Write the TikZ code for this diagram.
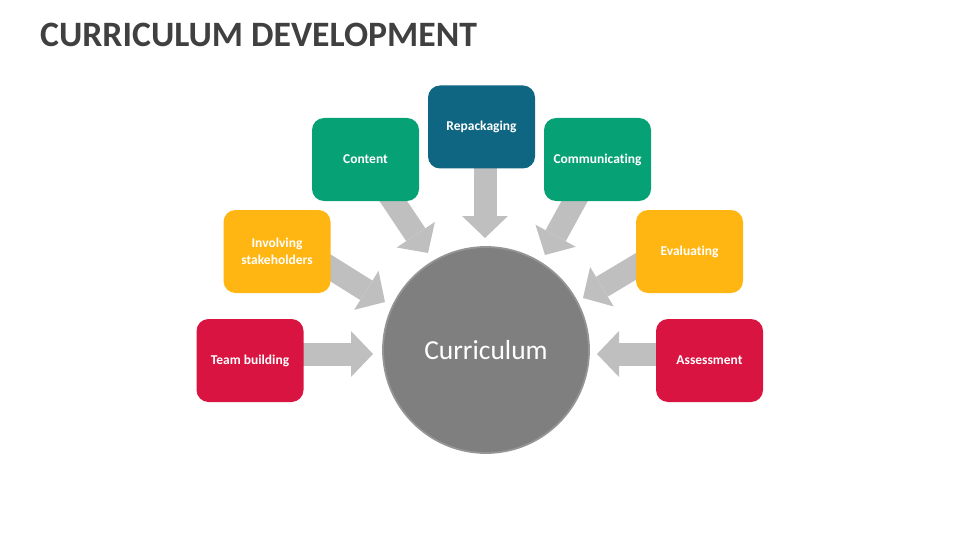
\documentclass[tikz,border=0pt]{standalone}
\usepackage{fontspec}
\setmainfont[Ligatures=NoCommon]{Carlito}
\usepackage{xcolor}
\usepackage{tikz}
\usetikzlibrary{positioning,calc,arrows.meta,backgrounds}
\definecolor{titlegray}{HTML}{404040}
\definecolor{arrowgray}{HTML}{BFBFBF}
\definecolor{hubgray}{HTML}{7F7F7F}
\definecolor{rimgray}{HTML}{959595}
\definecolor{redbox}{HTML}{D91441}
\definecolor{amberbox}{HTML}{FFB612}
\definecolor{greenbox}{HTML}{07A176}
\definecolor{tealbox}{HTML}{0F6682}

\begin{document}
\begin{tikzpicture}[x=1pt,y=-1pt,
    stage/.style={rounded corners=12pt, minimum width=107pt, minimum height=83pt, inner sep=2pt,
      text=white, align=center, font=\fontsize{13.5}{16.5}\selectfont\bfseries},
    hub/.style={circle, fill=hubgray, draw=rimgray, line width=1.8pt, minimum size=206pt, inner sep=0pt,
      text=white, font=\fontsize{27.5}{30}\selectfont},
    flow/.style={draw=arrowgray, line width=23pt, -{Triangle[length=22pt,width=46pt,line width=0pt]}}]
    \useasboundingbox (0,0) rectangle (960,540);

    % Title
    \node[anchor=base west, inner sep=0pt, text=titlegray, font=\fontsize{35.7}{40}\selectfont\bfseries]
      (title) at (40,47) {CURRICULUM DEVELOPMENT};

    % Centre
    \node[hub] (cur) at (486,350) {Curriculum};

    % Stages
    \node[stage, fill=redbox] (tb) at (250,360.5) {Team building};
    \node[stage, fill=amberbox] (is) at (277,251.5) {Involving\\stakeholders};
    \node[stage, fill=greenbox] (ct) at (365.5,159.5) {Content};
    \node[stage, fill=tealbox] (rp) at (481.5,127) {Repackaging};
    \node[stage, fill=greenbox] (cm) at (597.5,159.5) {Communicating};
    \node[stage, fill=amberbox] (ev) at (689.5,251.5) {Evaluating};
    \node[stage, fill=redbox] (as) at (709.5,360.5) {Assessment};

    % Arrow tips
    \coordinate (tbtip) at (373,354);
    \coordinate (istip) at (385,302);
    \coordinate (cttip) at (428,253);
    \coordinate (rptip) at (485,238);
    \coordinate (cmtip) at (545,255);
    \coordinate (evtip) at (583,298);
    \coordinate (astip) at (597,354);

    % Arrows
    \begin{scope}[on background layer]
      \draw[flow] (tb.center |- tbtip) -- (tbtip);
      \draw[flow] ([yshift=17pt]is.center) -- (istip);
      \draw[flow] (ct.center) -- (cttip);
      \draw[flow] (rp.center -| rptip) -- (rptip);
      \draw[flow] (cm.center) -- (cmtip);
      \draw[flow] ([yshift=17pt]ev.center) -- (evtip);
      \draw[flow] (as.center |- astip) -- (astip);
    \end{scope}
\end{tikzpicture}
\end{document}
